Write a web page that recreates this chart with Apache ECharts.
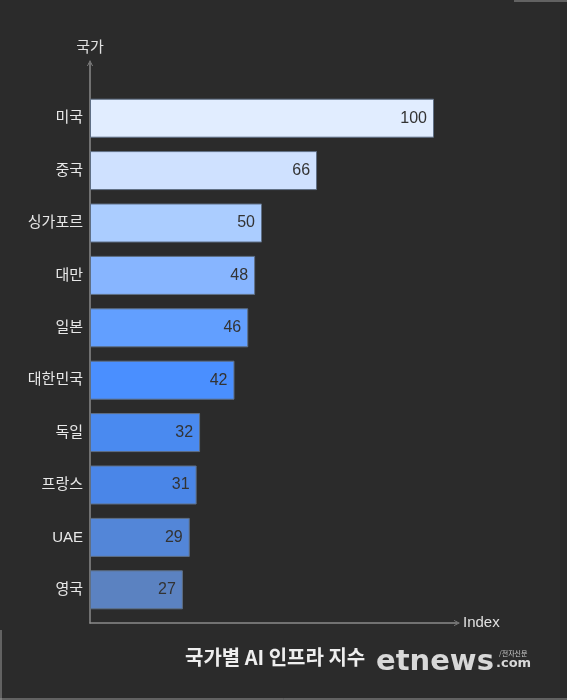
<!DOCTYPE html>
<html>
<head>
<meta charset="utf-8">
<script src="https://cdn.jsdelivr.net/npm/echarts@6/dist/echarts.min.js"></script>
<style>
  html, body { margin: 0; padding: 0; background: #2b2b2b; }
  #chart { width: 567px; height: 700px; }
</style>
</head>
<body>
<div id="chart"></div>
<script>
var countries = ['미국', '중국', '싱가포르', '대만', '일본', '대한민국', '독일', '프랑스', 'UAE', '영국'];
var indexValues = [100, 66, 50, 48, 46, 42, 32, 31, 29, 27];
var barColors = ['#e1edff', '#cfe1ff', '#abcdff', '#87b5ff', '#629fff', '#4a8fff', '#4a8af0', '#4a86e8', '#5386d8', '#5b82c1'];

var font = '"Liberation Sans", "Noto Sans CJK KR", sans-serif';
var chevron = 'path://M0,10 L5,0 L10,10 L8.6,10 L5,2.8 L1.4,10 Z';

var myChart = echarts.init(document.getElementById('chart'));
var option = {
    backgroundColor: '#2b2b2b',
    title: {
        text: '국가별 AI 인프라 지수',
        left: 180,
        top: 642,
        textStyle: { color: '#eeeeee', fontSize: 20, fontWeight: 'bold', fontFamily: '"Noto Sans CJK KR", sans-serif' }
    },
    grid: [
        // axes with arrows
        { left: 90, right: 110, top: 63, bottom: 77 },
        // bars
        { left: 90, right: 133, top: 92, bottom: 84 }
    ],
    xAxis: [
        {
            gridIndex: 0, type: 'value', min: 0, max: 100,
            name: 'Index', nameGap: 6,
            nameTextStyle: { color: '#e0e0e0', fontSize: 15, fontFamily: font },
            axisLine: { show: true, symbol: ['none', chevron], symbolSize: [7, 6], lineStyle: { color: '#8a8a8a', width: 1.5 } },
            axisTick: { show: false }, axisLabel: { show: false }, splitLine: { show: false }
        },
        {
            gridIndex: 1, type: 'value', min: 0, max: 100, show: false
        }
    ],
    yAxis: [
        {
            gridIndex: 0, type: 'value', min: 0, max: 1,
            name: '국가', nameGap: 8,
            nameTextStyle: { color: '#e0e0e0', fontSize: 15, fontFamily: font },
            axisLine: { show: true, symbol: ['none', chevron], symbolSize: [7, 6], lineStyle: { color: '#8a8a8a', width: 1.5 } },
            axisTick: { show: false }, axisLabel: { show: false }, splitLine: { show: false }
        },
        {
            gridIndex: 1, type: 'category', inverse: true,
            data: countries,
            axisLine: { show: false }, axisTick: { show: false },
            axisLabel: { color: '#e8e8e8', fontSize: 15, margin: 7, fontFamily: font }
        }
    ],
    series: [
        {
            type: 'bar',
            xAxisIndex: 1, yAxisIndex: 1,
            barWidth: 39,
            data: indexValues.map(function (v, i) {
                return { value: v, itemStyle: { color: barColors[i] } };
            }),
            itemStyle: { borderColor: '#5f6f85', borderWidth: 1 },
            label: {
                show: true, position: 'insideRight', distance: 7,
                color: '#333333', fontSize: 16, fontFamily: font
            },
            silent: true
        }
    ],
    graphic: [
        { type: 'text', left: 376, top: 648, style: { text: 'etnews', fill: '#d8d8d8', font: 'bold 29px "DejaVu Sans", sans-serif' } },
        { type: 'text', left: 496, top: 657, style: { text: '.com', fill: '#d8d8d8', font: 'bold 13px "DejaVu Sans", sans-serif' } },
        { type: 'text', left: 499, top: 650, style: { text: '/전자신문', fill: '#cccccc', font: '7px "Noto Sans CJK KR", sans-serif' } },
        { type: 'line', shape: { x1: 1, y1: 630, x2: 1, y2: 700 }, style: { stroke: '#9a9a9a', lineWidth: 1 } },
        { type: 'line', shape: { x1: 0, y1: 699, x2: 567, y2: 699 }, style: { stroke: '#9a9a9a', lineWidth: 1 } },
        { type: 'line', shape: { x1: 514, y1: 1, x2: 567, y2: 1 }, style: { stroke: '#9a9a9a', lineWidth: 1 } }
    ]
};
myChart.setOption(option);
</script>
</body>
</html>
